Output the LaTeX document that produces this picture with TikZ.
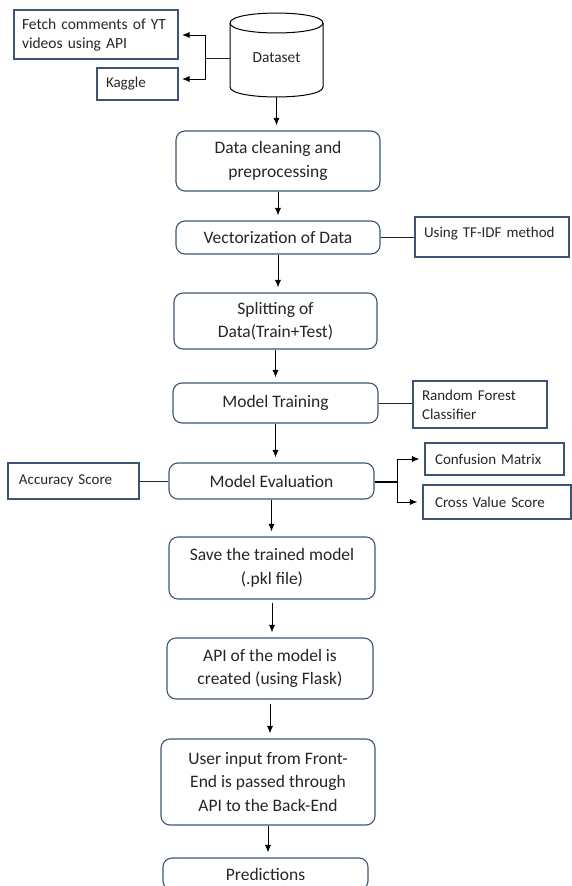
\documentclass[tikz,border=0pt]{standalone}
\usepackage{fontspec}
\setmainfont{Carlito}
\usetikzlibrary{arrows.meta}
\definecolor{boxblue}{HTML}{3E5474}
\definecolor{txt}{HTML}{262626}
\begin{document}
\begin{tikzpicture}[x=1pt,y=-1pt,
  mainbox/.style={draw=boxblue, line width=1.1pt, rounded corners=9pt, fill=white, align=center, text=txt, font=\fontsize{17.5}{23.5}\selectfont, inner sep=0pt},
  sidebox/.style={draw=boxblue, line width=1.1pt, align=left, text=txt, font=\fontsize{15}{19}\selectfont, inner xsep=9pt, inner ysep=0pt},
  arr/.style={-{Latex[length=7.5pt,width=6pt]}, line width=0.9pt, black, shorten >=5pt},
  conn/.style={line width=1pt, draw=black!85}
]
\useasboundingbox (0,0) rectangle (572,886);
% cylinder
\draw[line width=1pt] (230,23) .. controls (230,9.7) and (323,9.7) .. (323,23)
  .. controls (323,36.3) and (230,36.3) .. (230,23);
\draw[line width=1pt] (230,23) -- (230,87) .. controls (230,100.3) and (323,100.3) .. (323,87) -- (323,23);
\node[minimum width=93pt, minimum height=78pt, inner sep=0pt, text=txt, font=\fontsize{15.4}{19}\selectfont] (ds) at (276.5,58) {Dataset};

% side boxes
\node[sidebox, inner xsep=8pt, text width=148pt, minimum height=49pt, font=\fontsize{15.5}{19}\selectfont] (fetch) at (96,34.5) {Fetch comments of YT\\videos using API};
\node[sidebox, text width=63pt, minimum height=32pt] (kaggle) at (137.5,84) {Kaggle};
\node[sidebox, text width=136pt, text height=20pt, text depth=20pt] (tfidf) at (492,237) {Using TF-IDF method};
\node[sidebox, text width=116pt, minimum height=47pt] (rf) at (480,404.5) {Random Forest\\Classifier};
\node[sidebox, inner xsep=11pt, text width=109pt, minimum height=36pt] (acc) at (73.5,481) {Accuracy Score};
\node[sidebox, inner xsep=10pt, text width=119pt, minimum height=32pt] (conf) at (494.5,459) {Confusion Matrix};
\node[sidebox, inner xsep=12pt, text width=124pt, minimum height=34pt] (cross) at (497,502) {Cross Value Score};

% main boxes
\node[mainbox, minimum width=204pt, minimum height=60pt] (clean) at (278,161) {Data cleaning and\\preprocessing};
\node[mainbox, minimum width=204pt, minimum height=33pt] (vect) at (278,237.5) {Vectorization of Data};
\node[mainbox, minimum width=203pt, minimum height=56pt] (split) at (275.5,321) {Splitting of\\Data(Train+Test)};
\node[mainbox, minimum width=205pt, minimum height=40pt] (mt) at (275.5,403) {Model Training};
\node[mainbox, minimum width=205pt, minimum height=36pt] (me) at (271.5,481) {Model Evaluation};
\node[mainbox, minimum width=206pt, minimum height=62pt] (save) at (272,568) {Save the trained model\\(.pkl file)};
\node[mainbox, minimum width=206pt, minimum height=61pt] (api) at (270,668.5) {API of the model is\\created (using Flask)};
\node[mainbox, minimum width=214pt, minimum height=86pt] (user) at (268,782) {User input from Front-\\End is passed through\\API to the Back-End};
\node[mainbox, minimum width=205pt, minimum height=32pt] (pred) at (265.5,874) {Predictions};

% dataset sources
\coordinate (dsj) at (205,58);
\coordinate (fetchend) at (182,35);
\coordinate (kagend) at (182,79);
\draw[conn] (ds.west) -- (dsj);
\draw[arr, shorten >=0pt] (dsj) |- (fetchend);
\draw[arr, shorten >=0pt] (dsj) |- (kagend);

% main flow
\draw[arr] (ds.south) -- (ds.south |- clean.north);
\draw[arr] (clean.south) -- (clean.south |- vect.north);
\draw[arr] (vect.south) -- (vect.south |- split.north);
\draw[arr] (split.south) -- (split.south |- mt.north);
\draw[arr] (mt.south) -- (mt.south |- me.north);
\draw[arr] (me.south) -- (me.south |- save.north);
\draw[arr, shorten <=3pt] (save.south) -- (save.south |- api.north);
\draw[arr, shorten <=4pt] (api.south) -- (api.south |- user.north);
\draw[arr] (user.south) -- (user.south |- pred.north);

% side connectors
\draw[conn] (vect.east) -- (vect.east -| tfidf.west);
\draw[conn] (mt.east) -- (mt.east -| rf.west);
\draw[conn] (acc.east) -- (acc.east -| me.west);
\coordinate (mej) at (397,482);
\draw[line width=2.2pt] (me.east |- mej) -- (mej);
\draw[arr] (mej) |- (conf.west);
\draw[arr] (mej) |- (cross.west);
\end{tikzpicture}
\end{document}
